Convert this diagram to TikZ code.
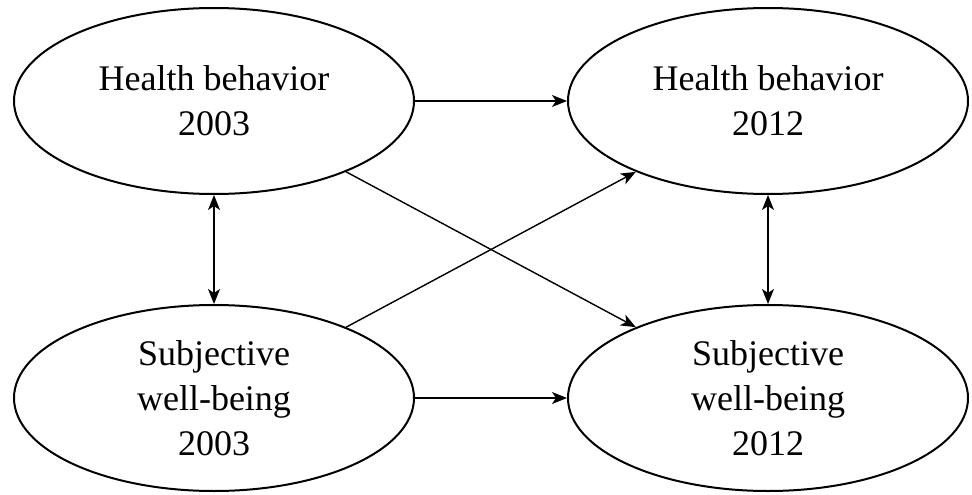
\documentclass[tikz,border=0pt]{standalone}
\usepackage{fontspec}
\setmainfont{Liberation Serif}
\usetikzlibrary{shapes.geometric,arrows.meta}
\begin{document}
\begin{tikzpicture}[x=1pt,y=-1pt,
  var/.style={ellipse,draw,line width=2pt,minimum width=400pt,minimum height=186pt,inner sep=0pt,
    align=center,font=\fontsize{36}{45}\selectfont},
  conn/.style={line width=1.4pt,-{Stealth[length=15pt,width=12pt,inset=4pt]}},
  bconn/.style={line width=1.4pt,{Stealth[length=15pt,width=12pt,inset=4pt]}-{Stealth[length=15pt,width=12pt,inset=4pt]}}]
\useasboundingbox (0,0) rectangle (972,495);
\node[var] (hb03) at (214,101) {Health behavior\\2003};
\node[var] (hb12) at (768,101) {Health behavior\\2012};
\node[var] (sw03) at (214,398) {Subjective\\well-being\\2003};
\node[var] (sw12) at (768,398) {Subjective\\well-being\\2012};
\draw[conn] (hb03) -- (hb12);
\draw[conn] (sw03) -- (sw12);
\draw[conn] (hb03) -- (sw12);
\draw[conn] (sw03) -- (hb12);
\draw[bconn] (hb03) -- (sw03);
\draw[bconn] (hb12) -- (sw12);
\end{tikzpicture}
\end{document}
